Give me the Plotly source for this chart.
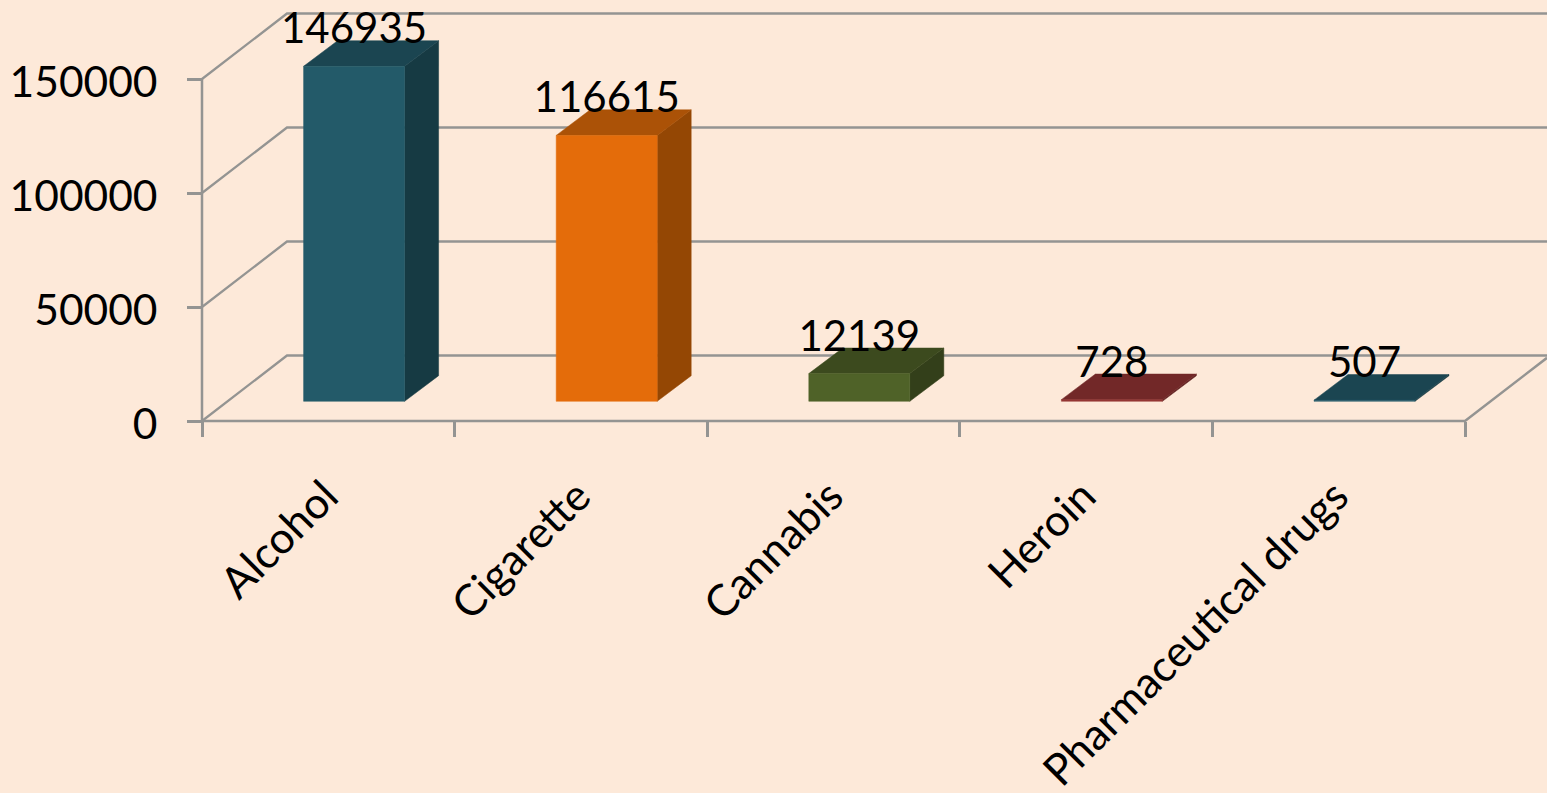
import plotly.graph_objects as go

categories = ["Alcohol", "Cigarette", "Cannabis", "Heroin", "Pharmaceutical drugs"]
values = [146935, 116615, 12139, 728, 507]
y_ticks = [0, 50000, 100000, 150000]
front_colors = ["#235A69", "#E46C0A", "#4F6228", "#953735", "#215968"]
top_colors = ["#1B4551", "#AB5207", "#3C4A1E", "#722828", "#1B4551"]
side_colors = ["#163A43", "#944704", "#333F1A", "#632222", "#163A43"]

BG = "#FDE9D9"
GRID = "#949492"
FONT = "Lato"
FS_Y = 42.5
FS_X = 43.5
FS_LABEL = 42

# pixel scale of the axes
PX_X = 1 / 252.6       # category units per pixel
PX_Y = 150000 / 342.0  # value units per pixel
W, H = 1547, 793
X0_PX, Y0_PX = 328.3, 421.0

# oblique projection of the chart's depth
wall_dx, wall_dy = 85 * PX_X, 65.5 * PX_Y
off_dx, off_dy = 25.8 * PX_X, 19.7 * PX_Y
bar_dx, bar_dy = 34 * PX_X, 25.6 * PX_Y
bar_w = 101 * PX_X

fig = go.Figure()


def line(xs, ys, width=2):
    fig.add_trace(go.Scatter(x=xs, y=ys, mode="lines", hoverinfo="skip",
                             line=dict(color=GRID, width=width)))


def poly(xs, ys, color):
    fig.add_trace(go.Scatter(x=xs + xs[:1], y=ys + ys[:1], mode="lines", fill="toself",
                             fillcolor=color, hoverinfo="skip",
                             line=dict(width=0.5, color=color)))


x_left, x_right = -0.5, len(categories) - 0.5
x_page = (W - X0_PX) * PX_X
frac = (x_page - x_right) / wall_dx

# y axis line, wall gridlines and floor
line([x_left, x_left], [0, y_ticks[-1]], 2.5)
for t in y_ticks:
    line([x_left, x_left + wall_dx, x_page], [t, t + wall_dy, t + wall_dy], 2.3)
line([x_left, x_right, x_page], [0, 0, frac * wall_dy], 2.5)

# bars
for i, v in enumerate(values):
    xl = i + off_dx - bar_w / 2
    xr = xl + bar_w
    base = off_dy
    top = base + v
    # side, top, front
    poly([xr, xr + bar_dx, xr + bar_dx, xr],
         [base, base + bar_dy, top + bar_dy, top], side_colors[i])
    poly([xl, xr, xr + bar_dx, xl + bar_dx],
         [top, top, top + bar_dy, top + bar_dy], top_colors[i])
    poly([xl, xr, xr, xl], [base, base, top, top], front_colors[i])

# data labels
fig.add_trace(go.Scatter(
    x=[i + off_dx for i in range(len(values))],
    y=[v + off_dy + bar_dy + 8 * PX_Y for v in values],
    mode="text", text=[str(v) for v in values], textposition="middle center",
    textfont=dict(family=FONT, size=FS_LABEL, color="#000000"), hoverinfo="skip"))

fig.update_layout(
    width=W, height=H, autosize=False,
    margin=dict(l=0, r=0, t=0, b=0, pad=0),
    paper_bgcolor=BG, plot_bgcolor=BG, showlegend=False,
    font=dict(family=FONT, size=FS_Y, color="#000000"),
    xaxis=dict(
        domain=[0, 1], range=[-X0_PX * PX_X, x_page], anchor="free", automargin=False,
        position=(H - Y0_PX) / H, showgrid=False, zeroline=False, showline=False,
        tickmode="array", tickvals=list(range(len(categories))), ticktext=categories,
        tickangle=-45, ticks="", ticklen=15, ticklabelstandoff=40, ticklabelshift=-3,
        tickfont=dict(family=FONT, size=FS_X, color="#000000"),
        minor=dict(tickmode="array", tickvals=[x_left + k for k in range(len(categories) + 1)],
                   ticks="outside", ticklen=15, tickwidth=2.5, tickcolor=GRID, showgrid=False),
    ),
    yaxis=dict(
        domain=[0, 1], range=[-(H - Y0_PX) * PX_Y, Y0_PX * PX_Y], anchor="free", automargin=False,
        position=(X0_PX + x_left / PX_X) / W, showgrid=False, zeroline=False, showline=False,
        tickmode="array", tickvals=y_ticks, ticktext=[str(t) for t in y_ticks],
        ticks="outside", ticklen=15, tickwidth=2.5, tickcolor=GRID, ticklabelstandoff=21,
        ticklabelshift=3,
        tickfont=dict(family=FONT, size=FS_Y, color="#000000"),
    ),
)

fig.write_html("out.html", config=dict(displayModeBar=False),
               post_script="document.body.style.margin='0';document.body.style.overflow='hidden';")
